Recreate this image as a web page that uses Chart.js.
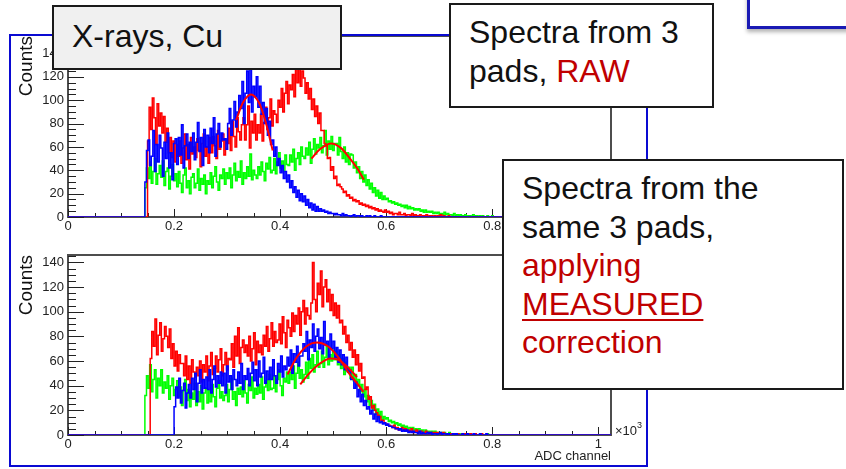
<!DOCTYPE html>
<html>
<head>
<meta charset="utf-8">
<script src="https://cdn.jsdelivr.net/npm/chart.js@4.4.1/dist/chart.umd.min.js"></script>
<style>
  body { margin:0; width:846px; height:469px; position:relative; overflow:hidden; background:#fff;
         font-family:"Liberation Sans", Arial, sans-serif; }
  canvas { position:absolute; left:0; }
  #padFrame { position:absolute; left:9px; top:34px; width:639px; height:433px;
              border:2px solid #0a0ad2; box-sizing:border-box; }
  .note { position:absolute; box-sizing:border-box; border:2px solid #1a1a1a; background:#fff;
          font-size:32px; line-height:38.5px; color:#111; padding:8px 0 0 18px; white-space:nowrap; }
  .red { color:#c00000; }
  u { text-decoration-thickness:2px; text-underline-offset:4px; }
  #corner { position:absolute; left:747px; top:-10px; width:120px; height:39px; box-sizing:border-box;
            border:3px solid #1a1ab4; background:#fff; box-shadow:0 3px 4px rgba(0,0,0,0.3); }
</style>
</head>
<body>
<canvas id="topChart" width="846" height="240" style="top:0"></canvas>
<canvas id="bottomChart" width="846" height="229" style="top:240px"></canvas>
<div id="padFrame"></div>
<div id="corner"></div>
<div class="note" style="left:52px; top:5px; width:290px; height:65px; background:#f0f0f0; padding-top:10px;">X-rays, Cu</div>
<div class="note" style="left:449px; top:3px; width:265px; height:105px;">Spectra from 3<br>pads, <span class="red">RAW</span></div>
<div class="note" style="left:502px; top:159px; width:342px; height:231px;">Spectra from the<br>same 3 pads,<br><span class="red">applying<br><u>MEASURED</u><br>correction</span></div>

<script>
const binWidth = 3;
const xTickLabels = [0, 200, 400, 600, 800, 1000];
const yTickLabels = [0, 20, 40, 60, 80, 100, 120, 140];

// ---- upper pad: raw spectra ----
const topBlueStart = 145;
const topBlue = [
  30,57,66,44,52,74,39,62,47,70,
  59,35,64,50,72,42,55,32,63,67,
  45,68,53,79,42,61,71,50,64,56,
  72,49,64,81,56,68,44,75,60,70,
  55,76,63,85,52,71,80,60,72,66,
  67,58,80,93,70,83,99,77,90,104,
  93,116,80,106,125,98,132,90,112,103,
  120,94,112,88,98,80,93,70,82,62,
  66,52,60,44,50,38,44,33,39,30,
  36,25,31,21,26,17,23,14,20,13,
  18,10,15,8,12,6,11,5,9,5,
  7,5,6,4,5,3,4,3,3,2,
  3,2,2,1,3,1,2,1,1,0,
  1,2,0,1,1,0,1,0,0,1,
  0,1,0,0,1,0,0,0,1,0
];
const topRedStart = 150;
const topRed = [
  65,94,75,102,85,62,97,78,89,72,
  86,64,76,55,68,51,65,47,62,52,
  65,46,59,71,49,62,41,68,54,60,
  51,67,57,43,63,71,52,60,46,68,
  55,69,61,50,74,58,65,71,53,66,
  63,76,57,82,69,60,85,73,66,79,
  85,66,79,95,59,82,72,88,66,79,
  72,88,65,81,94,75,85,101,78,91,
  88,81,100,94,110,90,106,116,97,113,
  109,122,103,128,115,135,112,125,119,106,
  115,101,110,92,101,86,95,80,89,74,
  74,63,61,50,51,40,43,33,35,27,
  28,26,24,21,22,18,19,16,17,14,
  15,13,14,11,12,10,11,9,10,8,
  9,7,8,6,7,5,6,5,4,6,
  4,5,3,4,2,3,3,2,4,2,
  2,3,1,2,2,1,3,1,2,1,
  1,2,0,1,1,2,0,1,1,0,
  1,0,1,0,2,0,1,0,0,1
];
const topGreenStart = 145;
const topGreen = [
  25,42,33,47,29,39,50,28,37,44,
  34,48,27,39,42,24,35,45,31,37,
  26,39,29,21,36,42,25,31,20,34,
  37,25,29,41,23,33,28,36,20,31,
  28,38,25,35,43,30,23,36,33,41,
  28,38,33,42,25,36,46,31,39,34,
  48,28,38,33,43,35,54,32,40,36,
  33,43,36,47,39,31,46,41,51,38,
  40,50,37,47,55,42,48,39,53,45,
  44,53,47,58,40,50,55,45,60,52,
  50,59,53,64,46,58,67,54,62,59,
  68,55,61,74,53,65,58,69,57,63,
  63,53,68,56,50,60,47,55,45,54,
  53,42,47,38,43,33,39,30,36,27,
  32,24,29,21,25,18,23,16,21,15,
  18,15,16,13,14,12,13,11,12,10,
  11,9,10,8,10,7,9,7,8,6,
  7,6,7,5,6,4,6,4,5,4,
  5,3,4,3,4,2,3,2,4,2,
  3,2,2,1,3,1,2,1,2,1,
  1,2,0,1,1,0,2,0,1,0,
  1,0,1,0,0,1,0,0,1,0
];
const topFitAX = [317, 330, 345, 360, 373, 386];
const topFitAY = [83, 98, 105, 98, 81, 57];
const topFitBX = [459, 475, 496, 515, 530, 545, 558];
const topFitBY = [50, 58, 63, 59, 51, 42, 32];

// ---- lower pad: corrected spectra ----
const botGreenStart = 145;
const botGreen = [
  32,48,38,57,35,45,53,30,46,40,
  53,34,43,38,48,29,40,46,32,37,
  44,31,39,24,36,45,28,37,23,34,
  29,42,24,35,27,40,21,34,38,26,
  36,27,41,31,23,38,44,30,35,28,
  32,41,27,37,46,29,35,24,38,33,
  39,31,44,34,26,41,36,47,30,38,
  33,41,34,47,29,39,44,36,49,37,
  38,48,35,45,53,40,32,46,43,51,
  42,51,45,56,38,50,59,46,53,43,
  49,59,46,62,54,65,51,57,68,55,
  58,68,55,63,74,57,65,60,69,61,
  68,57,65,54,62,49,59,52,55,46,
  55,44,49,40,45,35,41,31,37,27,
  32,24,28,20,25,17,21,14,19,12,
  15,13,14,11,12,10,11,9,10,8,
  9,7,8,6,7,5,6,5,6,4,
  5,4,5,3,4,2,4,3,3,2,
  3,2,3,1,2,1,2,1,2,1,
  1,2,0,1,1,0,1,1,0,1,
  1,0,1,0,1,0,0,1,0,0,
  0,1,0,0,0,1,0,0,0,0
];
const botRedStart = 155;
const botRed = [
  62,84,72,94,65,81,91,68,78,88,
  80,71,86,62,74,56,68,52,65,58,
  58,48,64,45,56,42,61,51,47,55,
  48,60,43,57,51,64,44,56,67,49,
  54,64,51,61,70,48,57,67,53,62,
  61,74,55,80,64,87,58,71,77,67,
  73,64,80,60,70,83,57,76,67,73,
  65,81,72,88,68,78,91,72,84,75,
  77,90,74,96,83,71,93,87,80,99,
  84,97,90,103,81,100,109,90,103,97,
  94,107,140,110,100,123,114,133,104,120,
  126,108,118,101,114,97,107,95,105,91,
  93,82,88,75,81,69,75,63,69,57,
  65,52,58,46,47,37,39,29,31,22,
  24,20,18,16,15,12,12,10,9,8,
  8,7,6,8,5,6,4,5,6,4,
  5,3,4,3,5,2,3,4,2,3,
  3,2,1,3,2,1,2,1,2,1,
  2,1,1,0,2,1,0,1,1,0,
  1,0,1,1,0,0,1,0,1,0,
  0,1,0,0,1,0,0,0,1,0
];
const botBlueStart = 200;
const botBlue = [
  23,39,30,46,26,36,42,22,34,41,
  30,46,37,50,27,42,53,34,45,38,
  47,37,53,34,45,56,39,48,42,51,
  40,50,34,56,43,48,37,53,45,40,
  51,42,58,37,48,45,54,40,50,59,
  44,53,40,60,47,50,63,42,52,45,
  55,45,61,48,42,58,51,64,47,56,
  53,63,56,69,50,66,59,72,56,64,
  64,74,68,84,61,77,71,90,68,80,
  86,70,79,66,92,73,76,63,82,70,
  76,63,71,59,69,57,65,53,63,51,
  53,45,45,38,43,31,37,27,33,24,
  28,21,23,17,20,13,17,11,15,10,
  11,9,10,8,9,7,7,6,6,5,
  5,4,5,3,4,3,4,2,3,2,
  3,2,2,1,3,1,2,1,1,2,
  1,2,0,1,1,0,1,2,0,1,
  1,0,1,0,0,1,0,1,0,0,
  0,1,0,0,1,0,0,0,1,0,
  0,0,1,0,0,0,1,0,0,0
];
const botFitAX = [414, 430, 450, 470, 490, 510, 530, 545, 557];
const botFitAY = [49, 62, 72, 75, 72, 63, 50, 42, 35];
const botFitBX = [438, 455, 475, 495, 510, 525, 545];
const botFitBY = [41, 50, 58, 62, 61, 56, 47];

Chart.defaults.font.family = '"Liberation Sans", Arial, sans-serif';

function histPoints(start, counts) {
  let pts = [{x: 0, y: 0}];
  counts.forEach((c, i) => pts.push({x: start + i * binWidth, y: c}));
  pts.push({x: start + counts.length * binWidth, y: 0});
  pts.push({x: 1024, y: 0});
  return pts;
}

function histSet(start, counts, color) {
  return { data: histPoints(start, counts), borderColor: color, borderWidth: 1.5,
           stepped: true, pointRadius: 0, fill: false };
}

function fitSet(xs, ys) {
  return { data: xs.map((x, i) => ({x: x, y: ys[i]})), borderColor: '#ff0000', borderWidth: 2,
           tension: 0.4, cubicInterpolationMode: 'monotone', pointRadius: 0, fill: false };
}

// ROOT style frame and inward tick marks
const rootAxes = {
  id: 'rootAxes',
  beforeDatasetsDraw(chart) {
    const {ctx, chartArea: a, scales: {x, y}} = chart;
    ctx.save();
    ctx.strokeStyle = '#4d4d4d';
    ctx.lineWidth = 2;
    ctx.strokeRect(a.left, a.top, a.right - a.left, a.bottom - a.top);
    ctx.strokeStyle = '#222';
    ctx.lineWidth = 1;
    ctx.beginPath();
    for (let v = 0; v <= 1000; v += 50) {
      let px = Math.round(x.getPixelForValue(v)) + 0.5;
      let len = v % 200 === 0 ? 8 : 4;
      ctx.moveTo(px, a.bottom);
      ctx.lineTo(px, a.bottom - len);
    }
    for (let v = 0; v <= y.max; v += 5) {
      let py = Math.round(y.getPixelForValue(v)) + 0.5;
      let len = v % 20 === 0 ? 16 : 8;
      ctx.moveTo(a.left, py);
      ctx.lineTo(a.left + len, py);
    }
    ctx.stroke();
    ctx.fillStyle = '#222';
    ctx.font = '13px "Liberation Sans", Arial';
    ctx.fillText('\u00d710', a.right + 4, a.bottom);
    let w = ctx.measureText('\u00d710').width;
    ctx.font = '9px "Liberation Sans", Arial';
    ctx.fillText('3', a.right + 4 + w, a.bottom - 7);
    ctx.restore();
  }
};

function makeChart(id, topPad, xHeight, yMax, hists, fits) {
  new Chart(document.getElementById(id), {
    type: 'line',
    data: { datasets: fits.concat(hists) },
    options: {
      responsive: false,
      animation: false,
      events: [],
      layout: { padding: { left: 0, right: 235, top: topPad, bottom: 0 } },
      plugins: { legend: { display: false }, tooltip: { enabled: false } },
      scales: {
        x: {
          type: 'linear', min: 0, max: 1024,
          grid: { display: false, drawTicks: false },
          border: { display: false },
          afterBuildTicks: s => { s.ticks = xTickLabels.map(v => ({value: v})); },
          afterFit: s => { s.height = xHeight; },
          ticks: { padding: 2, color: '#222', font: { size: 13 }, maxRotation: 0, autoSkip: false,
                   callback: v => String(v / 1000) },
          title: { display: true, text: 'ADC channel', align: 'end', color: '#222',
                   font: { size: 13 }, padding: { top: 0, bottom: 5 } }
        },
        y: {
          min: 0, max: yMax,
          grid: { display: false, drawTicks: false },
          border: { display: false },
          afterBuildTicks: s => { s.ticks = yTickLabels.map(v => ({value: v})); },
          afterFit: s => { s.width = 68; },
          ticks: { padding: 4, color: '#222', font: { size: 13 } },
          title: { display: true, text: 'Counts', align: 'end', color: '#111',
                   font: { size: 19 }, padding: { top: 15, bottom: 0 } }
        }
      }
    },
    plugins: [rootAxes]
  });
}

makeChart('topChart', 36, 23, 155,
  [histSet(topBlueStart, topBlue, '#0000ff'), histSet(topRedStart, topRed, '#ff0000'),
   histSet(topGreenStart, topGreen, '#00ff00')],
  [fitSet(topFitAX, topFitAY), fitSet(topFitBX, topFitBY)]);

makeChart('bottomChart', 15, 34, 146,
  [histSet(botBlueStart, botBlue, '#0000ff'), histSet(botRedStart, botRed, '#ff0000'),
   histSet(botGreenStart, botGreen, '#00ff00')],
  [fitSet(botFitAX, botFitAY), fitSet(botFitBX, botFitBY)]);
</script>
</body>
</html>
